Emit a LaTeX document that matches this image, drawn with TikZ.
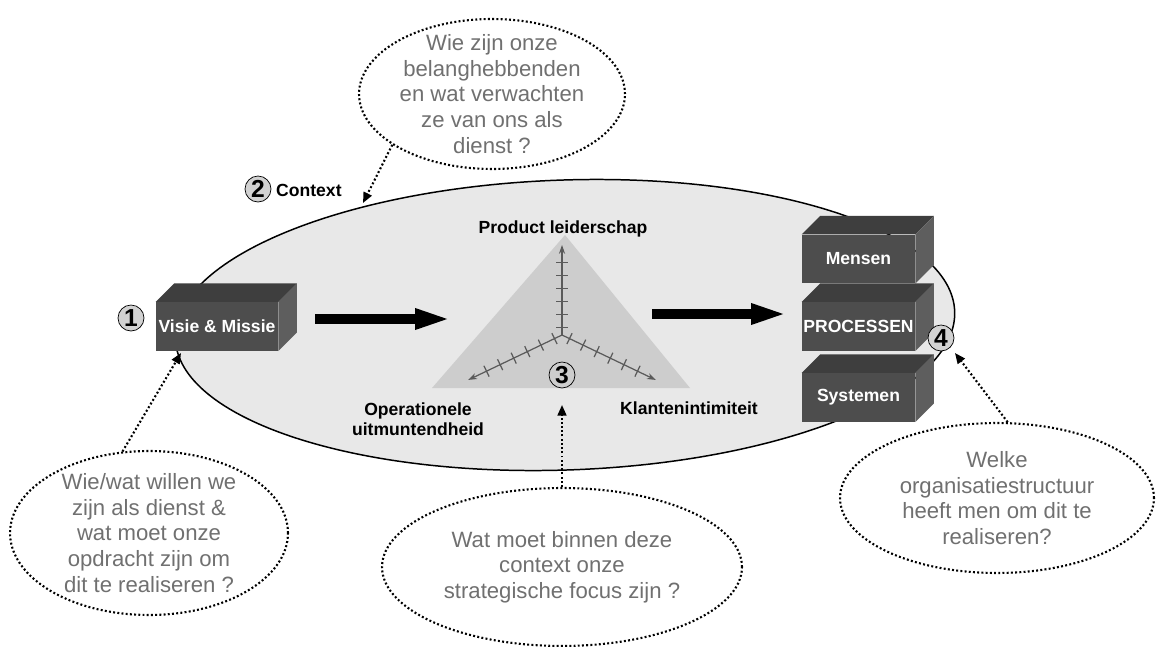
\documentclass[tikz,border=0pt]{standalone}
\usepackage{fontspec}
\setmainfont{Liberation Sans}
\usetikzlibrary{shapes.geometric, arrows.meta, calc}
\definecolor{cBlockFront}{RGB}{77,77,77}
\definecolor{cBlockTop}{RGB}{62,62,62}
\definecolor{cBlockSide}{RGB}{94,94,94}
\definecolor{cContext}{RGB}{232,232,232}
\definecolor{cFocus}{RGB}{205,205,205}
\definecolor{cAxis}{RGB}{90,90,90}
\definecolor{cQuestion}{RGB}{112,112,112}
\definecolor{cBadge}{RGB}{210,210,210}
\tikzset{
	block/.style    ={rectangle, fill=cBlockFront, text=white, font=\fontsize{10}{12}\selectfont\bfseries, minimum width=2.26cm, minimum height=0.97cm, inner sep=0pt},
	bubble/.style   ={ellipse, draw=black, line width=1.2pt, dash pattern=on 1.1pt off 1.3pt, fill=white, text=cQuestion, align=center, inner sep=-7pt, font=\fontsize{12.6}{14.6}\selectfont},
	badge/.style    ={circle, draw=black, fill=cBadge, minimum size=0.52cm, inner sep=0pt, font=\fontsize{14}{14}\selectfont\bfseries},
	lbl/.style      ={font=\fontsize{10}{11.5}\selectfont\bfseries, align=center},
	% arrows
	bigarrow/.style ={line width=5.7pt, -{Triangle[length=21pt, width=10.5pt]}},
	askarrow/.style ={line width=1.2pt, dash pattern=on 1.1pt off 1.3pt, -{Triangle[length=6pt, width=5pt]}},
}
% top and side face of a block, depth in px
\newcommand{\blockdepth}[1]{%
	\fill[cBlockTop] (#1.north west) -- ++(18.5,-18.5) -- ($(#1.north east)+(18.5,-18.5)$) -- (#1.north east) -- cycle;
	\fill[cBlockSide] (#1.north east) -- ++(18.5,-18.5) -- ($(#1.south east)+(18.5,-18.5)$) -- (#1.south east) -- cycle;
}
\begin{document}
\begin{tikzpicture}[x=0.02cm, y=-0.02cm]
	\useasboundingbox (0,0) rectangle (1156,646);
	% context
	\node[ellipse, draw=black, line width=0.85pt, fill=cContext, minimum width=15.6cm, minimum height=5.8cm, rotate=2] (context) at (565,325) {};
	\node[badge] (n2) at (258,189) {2};
	\node[lbl, anchor=west] (ctxlabel) at (270,190) {Context};
	% strategic focus triangle with three axes
	\fill[cFocus] (565,235) -- (432,388) -- (690,388) -- cycle;
	\coordinate (origin) at (562,335);
	\foreach \ang/\len in {90/90, 205.6/104, -25.6/104}{
		\begin{scope}[shift={(origin)}, rotate=\ang]
			\draw[cAxis, line width=0.7pt, -{Stealth[length=5pt, width=3.5pt]}] (0,0) -- (\len,0);
			\foreach \f in {0.08,0.225,0.37,0.515,0.66,0.805}
				\draw[cAxis, line width=0.7pt] (\f*\len,-6) -- (\f*\len,6);
		\end{scope}
	}
	\node[lbl] (lead) at (563,229) {Product leiderschap};
	\node[lbl] (oper) at (418,419) {Operationele\\uitmuntendheid};
	\node[lbl] (intim) at (689,408) {Klantenintimiteit};
	\node[badge, fill=cFocus] (n3) at (562,375) {3};
	% blocks
	\node[block, minimum width=2.44cm] (visie) at (217,326.5) {Visie \& Missie};
	\node[block] (mensen) at (858.5,259) {Mensen};
	\node[block] (proc) at (858.5,326.5) {PROCESSEN};
	\node[block] (syst) at (858.5,397.5) {Systemen};
	\blockdepth{visie}
	\blockdepth{mensen}
	\blockdepth{proc}
	\blockdepth{syst}
	\node[badge] (n1) at (131,318) {1};
	\node[badge] (n4) at (941,338) {4};
	% flow arrows
	\coordinate (go1) at (315,319);
	\coordinate (to1) at (452,319);
	\coordinate (go2) at (652,314);
	\coordinate (to2) at (788,314);
	\draw[bigarrow] (go1) -- (to1);
	\draw[bigarrow] (go2) -- (to2);
	% questions
	\node[bubble, minimum width=5.32cm, minimum height=3.0cm] (qContext) at (492,94) {Wie zijn onze\\belanghebbenden\\en wat verwachten\\ze van ons als\\dienst ?};
	\node[bubble, minimum width=5.56cm, minimum height=3.28cm] (qMission) at (149,533) {Wie/wat willen we\\zijn als dienst \&\\wat moet onze\\opdracht zijn om\\dit te realiseren ?};
	\node[bubble, minimum width=7.2cm, minimum height=3.16cm] (qFocus) at (562,567) {Wat moet binnen deze\\context onze\\strategische focus zijn ?};
	\node[bubble, minimum width=6.28cm, minimum height=3.0cm] (qStructure) at (997,498) {Welke\\organisatiestructuur\\heeft men om dit te\\realiseren?};
	\coordinate (ctxTip) at (363,203);
	\coordinate (misTip) at (181,353);
	\coordinate (focTip) at (562,405);
	\coordinate (strTip) at (955,353);
	\draw[askarrow] (qContext.207) -- (ctxTip);
	\draw[askarrow] (qMission.108) -- (misTip);
	\draw[askarrow] (qFocus.north) -- (focTip);
	\draw[askarrow] (qStructure.82) -- (strTip);
\end{tikzpicture}
\end{document}
